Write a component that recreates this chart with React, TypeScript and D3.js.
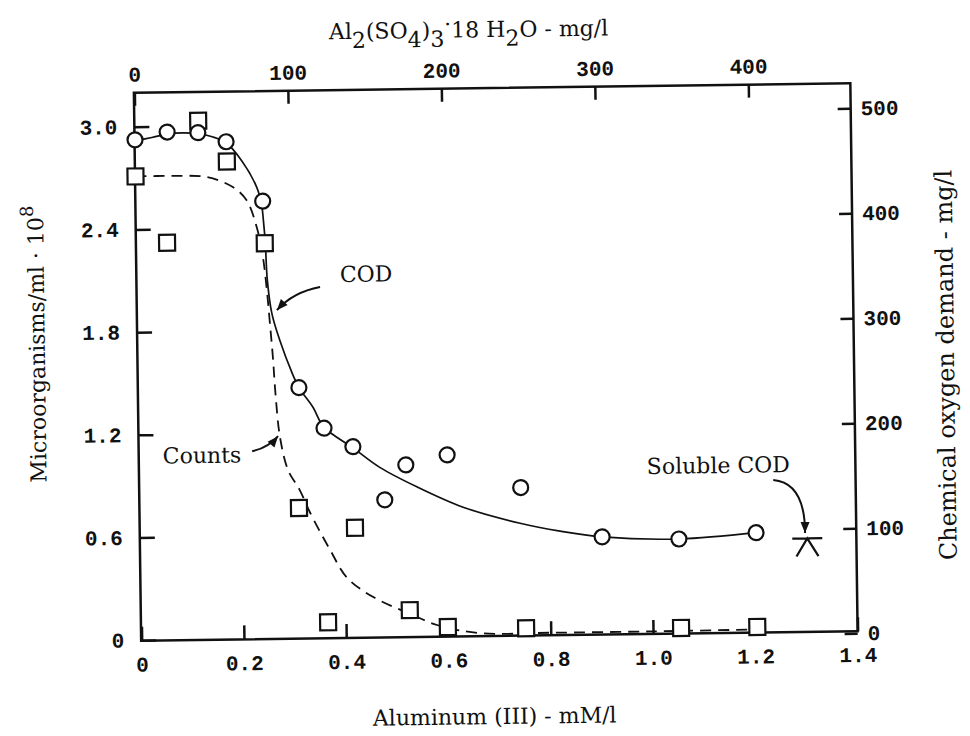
import React, { useEffect, useRef } from "react";
import * as d3 from "d3";

// Aluminum (III) dose in mM/l for the COD samples (circles)
const codDose = [0, 0.063, 0.123, 0.178, 0.248, 0.314, 0.362, 0.418, 0.479, 0.521, 0.602, 0.745, 0.903, 1.053, 1.204];
// Chemical oxygen demand, mg/l
const codValues = [479, 486, 485, 476, 419, 241, 202, 184, 133, 166, 175, 143, 95, 92, 97];

// Aluminum (III) dose for the microorganism counts (squares)
const countDose = [0, 0.06, 0.124, 0.179, 0.251, 0.311, 0.365, 0.42, 0.525, 0.599, 0.752, 1.055, 1.204];
// Microorganisms/ml · 10^8
const countValues = [2.71, 2.32, 3.03, 2.79, 2.31, 0.76, 0.09, 0.64, 0.155, 0.053, 0.04, 0.03, 0.03];

// Hand drawn COD curve (solid)
const codCurveDose = [0, 0.033, 0.063, 0.094, 0.123, 0.151, 0.178, 0.209, 0.237, 0.246, 0.249, 0.252, 0.255, 0.263, 0.278, 0.301, 0.314, 0.341, 0.362, 0.418, 0.47, 0.542, 0.632, 0.743, 0.821, 0.903, 1.053, 1.204];
const codCurveValues = [478, 481, 484, 485, 484, 481, 475, 457, 432, 415, 400, 380, 344, 312, 286, 255, 241, 222, 203, 183, 164, 145, 125, 109, 101, 95, 92, 97];

// Hand drawn counts curve (dashed)
const countCurveDose = [0, 0.07, 0.14, 0.19, 0.217, 0.236, 0.247, 0.254, 0.259, 0.264, 0.268, 0.276, 0.291, 0.313, 0.332, 0.371, 0.403, 0.454, 0.531, 0.578, 0.662, 0.8, 1.0, 1.2];
const countCurveValues = [2.71, 2.71, 2.7, 2.64, 2.56, 2.4, 2.23, 2.03, 1.84, 1.64, 1.43, 1.17, 0.98, 0.865, 0.736, 0.512, 0.35, 0.234, 0.126, 0.066, 0.015, 0.012, 0.012, 0.015];

// Soluble COD point
const solubleDose = [1.304];
const solubleValues = [91];

// Tick values
const xTicks = [0, 0.2, 0.4, 0.6, 0.8, 1.0, 1.2, 1.4];
const leftTicks = [0, 0.6, 1.2, 1.8, 2.4, 3.0];
const rightTicks = [0, 100, 200, 300, 400, 500];
const topTicks = [0, 100, 200, 300, 400];

// Al2(SO4)3·18H2O mg/l per mM/l of Al(III)
const ALUM_PER_MM = 333.2;

const W = 970;
const H = 736;
const frame = { left: 137.5, right: 854, top: 88, bottom: 636 };
const TILT = -0.76; // the scan is slightly rotated

const INK = "#111";
const SERIF = "'DejaVu Serif', 'Liberation Serif', serif";
const MONO = "'Liberation Mono', 'DejaVu Sans Mono', monospace";

// annotation placements, in (dose, COD) units
const annotations = [
  { text: "COD", at: [0.397, 341], from: [0.358, 336.5], ctrl: [0.305, 332], tip: [0.273, 315] },
  { text: "Counts", at: [0.046, 170.4], from: [0.221, 181], ctrl: [0.2525, 184], tip: [0.272, 195] },
  { text: "Soluble COD", at: [0.992, 154.3], from: [1.239, 147], ctrl: [1.301, 144], tip: [1.2998, 96] },
];

const App = () => {
  const ref = useRef<SVGSVGElement>(null);

  useEffect(() => {
    const svg = d3.select(ref.current);
    svg.selectAll("*").remove();

    const cx = (frame.left + frame.right) / 2;
    const cy = (frame.top + frame.bottom) / 2;
    const g = svg.append("g").attr("transform", `rotate(${TILT}, ${cx}, ${cy})`);

    const x = d3.scaleLinear().domain([0, 1.4]).range([138, 854]);
    const xTop = d3.scaleLinear().domain([0, 1.4 * ALUM_PER_MM]).range([138, 854]);
    const yL = d3.scaleLinear().domain([0, 3]).range([635.5, 122]);
    const yR = d3.scaleLinear().domain([0, 500]).range([638, 113]);

    const fmtDec = (d: number) => (d === 0 ? "0" : d3.format(".1f")(d));

    const styleAxis = (sel: any) => {
      sel.select(".domain").remove();
      sel.attr("font-family", MONO).attr("font-size", 21).attr("font-weight", "bold");
      sel.selectAll("line").attr("stroke", INK).attr("stroke-width", 2.5);
      sel.selectAll("text").attr("fill", INK);
    };

    // Axes
    g.append("g")
      .attr("transform", `translate(0, ${frame.bottom})`)
      .call(d3.axisBottom(x).tickValues(xTicks).tickFormat(fmtDec as any).tickSizeInner(-14).tickSizeOuter(0).tickPadding(16))
      .call(styleAxis);

    g.append("g")
      .attr("transform", `translate(${frame.left}, 0)`)
      .call(d3.axisLeft(yL).tickValues(leftTicks).tickFormat(fmtDec as any).tickSizeInner(-15).tickSizeOuter(0).tickPadding(17))
      .call(styleAxis);

    g.append("g")
      .attr("transform", `translate(${frame.right}, 0)`)
      .call(d3.axisRight(yR).tickValues(rightTicks).tickFormat(d3.format("d") as any).tickSizeInner(-13).tickSizeOuter(0).tickPadding(10))
      .call(styleAxis);

    g.append("g")
      .attr("transform", `translate(0, ${frame.top})`)
      .call(d3.axisTop(xTop).tickValues(topTicks).tickFormat(d3.format("d") as any).tickSizeInner(-13).tickSizeOuter(0).tickPadding(11))
      .call(styleAxis);

    // Frame
    g.append("rect")
      .attr("x", frame.left)
      .attr("y", frame.top)
      .attr("width", frame.right - frame.left)
      .attr("height", frame.bottom - frame.top)
      .attr("fill", "none")
      .attr("stroke", INK)
      .attr("stroke-width", 2.5);

    // Curves
    const codLine = d3.line<number>()
      .x(i => x(codCurveDose[i]))
      .y(i => yR(codCurveValues[i]))
      .curve(d3.curveCatmullRom.alpha(0.5));

    g.append("path")
      .datum(d3.range(codCurveDose.length))
      .attr("fill", "none")
      .attr("stroke", INK)
      .attr("stroke-width", 1.7)
      .attr("d", codLine);

    const countLine = d3.line<number>()
      .x(i => x(countCurveDose[i]))
      .y(i => yL(countCurveValues[i]))
      .curve(d3.curveCatmullRom.alpha(0.5));

    g.append("path")
      .datum(d3.range(countCurveDose.length))
      .attr("fill", "none")
      .attr("stroke", INK)
      .attr("stroke-width", 1.8)
      .attr("stroke-dasharray", "11,7")
      .attr("d", countLine);

    // Squares: counts
    const sq = 16;
    g.append("g")
      .selectAll("rect")
      .data(d3.range(countDose.length))
      .join("rect")
      .attr("x", i => x(countDose[i]) - sq / 2)
      .attr("y", i => yL(countValues[i]) - sq / 2)
      .attr("width", sq)
      .attr("height", sq)
      .attr("fill", "#fff")
      .attr("stroke", INK)
      .attr("stroke-width", 2.2);

    // Circles: COD
    g.append("g")
      .selectAll("circle")
      .data(d3.range(codDose.length))
      .join("circle")
      .attr("cx", i => x(codDose[i]))
      .attr("cy", i => yR(codValues[i]))
      .attr("r", 7.5)
      .attr("fill", "#fff")
      .attr("stroke", INK)
      .attr("stroke-width", 2.2);

    // Soluble COD marker: bar with an inverted V below
    solubleDose.forEach((d, i) => {
      const px = x(d);
      const py = yR(solubleValues[i]);
      g.append("path")
        .attr("d", `M${px - 15},${py}H${px + 15}M${px - 11},${py + 18}L${px},${py}L${px + 11},${py + 18}`)
        .attr("fill", "none")
        .attr("stroke", INK)
        .attr("stroke-width", 2.2);
    });

    // Annotations with curved arrows
    annotations.forEach(a => {
      g.append("text")
        .attr("x", x(a.at[0]))
        .attr("y", yR(a.at[1]))
        .attr("font-family", SERIF)
        .attr("font-size", 22)
        .attr("fill", INK)
        .text(a.text);

      const p0 = [x(a.from[0]), yR(a.from[1])];
      const p1 = [x(a.ctrl[0]), yR(a.ctrl[1])];
      const p2 = [x(a.tip[0]), yR(a.tip[1])];
      g.append("path")
        .attr("d", `M${p0[0]},${p0[1]}Q${p1[0]},${p1[1]} ${p2[0]},${p2[1]}`)
        .attr("fill", "none")
        .attr("stroke", INK)
        .attr("stroke-width", 2);

      const dx = p2[0] - p1[0];
      const dy = p2[1] - p1[1];
      const len = Math.hypot(dx, dy) || 1;
      const ux = dx / len;
      const uy = dy / len;
      const L = 11;
      const w = 4.5;
      const bx = p2[0] - ux * L;
      const by = p2[1] - uy * L;
      g.append("path")
        .attr("d", `M${p2[0]},${p2[1]}L${bx - uy * w},${by + ux * w}L${bx + uy * w},${by - ux * w}Z`)
        .attr("fill", INK);
    });

    // Axis titles
    g.append("text")
      .attr("x", 490)
      .attr("y", 724)
      .attr("text-anchor", "middle")
      .attr("font-family", SERIF)
      .attr("font-size", 22)
      .attr("fill", INK)
      .text("Aluminum (III) - mM/l");

    const topTitle = g.append("text")
      .attr("x", 473)
      .attr("y", 37)
      .attr("text-anchor", "middle")
      .attr("font-family", SERIF)
      .attr("font-size", 22)
      .attr("fill", INK);
    const parts: [string, number][] = [
      ["Al", 0], ["2", 9], ["(SO", -9], ["4", 9], [")", -9], ["3", 9], ["·", -15], ["18 H", 6], ["2", 9], ["O - mg/l", -9],
    ];
    parts.forEach(([t, dy]) => {
      topTitle.append("tspan").attr("dy", dy).text(t);
    });

    const leftTitle = g.append("text")
      .attr("transform", "translate(45, 338) rotate(-90)")
      .attr("text-anchor", "middle")
      .attr("font-family", SERIF)
      .attr("font-size", 22)
      .attr("fill", INK);
    leftTitle.append("tspan").text("Microorganisms/ml · 10");
    leftTitle.append("tspan").attr("dy", -10).attr("font-size", 18).text("8");

    g.append("text")
      .attr("transform", "translate(954, 371) rotate(-90)")
      .attr("text-anchor", "middle")
      .attr("font-family", SERIF)
      .attr("font-size", 24)
      .attr("fill", INK)
      .text("Chemical oxygen demand - mg/l");
  }, []);

  return (
    <svg
      ref={ref}
      width={W}
      height={H}
      style={{ position: "absolute", left: 0, top: 0, background: "#fff" }}
    />
  );
};

export default App;
